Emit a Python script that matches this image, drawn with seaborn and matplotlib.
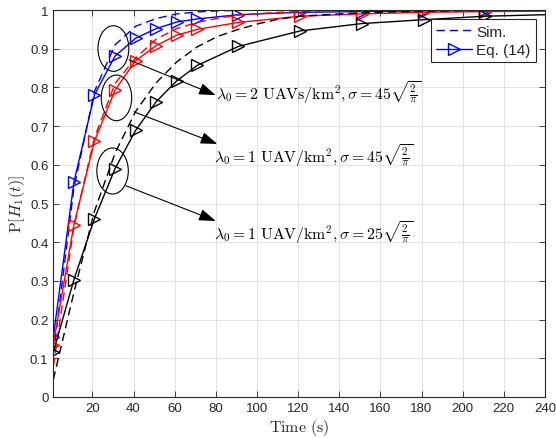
import numpy as np
import pandas as pd
import matplotlib
matplotlib.use("Agg")
import matplotlib.pyplot as plt
from matplotlib.patches import Ellipse
import seaborn as sns

# ---------------- data ----------------
t_eq = [1, 11, 21, 31, 41, 51, 61, 71, 91, 121, 151, 181, 211, 241]
eq_blue = [0.155, 0.555, 0.781, 0.881, 0.927, 0.952, 0.969, 0.977, 0.988, 0.994, 0.996, 0.998, 0.999, 0.999]
eq_red = [0.135, 0.445, 0.661, 0.793, 0.869, 0.908, 0.935, 0.950, 0.968, 0.984, 0.990, 0.994, 0.996, 0.997]
eq_black = [0.116, 0.303, 0.461, 0.590, 0.689, 0.763, 0.817, 0.857, 0.906, 0.946, 0.965, 0.975, 0.984, 0.988]

t_sim = [1, 11, 21, 31, 41, 51, 61, 71, 81, 91, 101, 111, 121, 151, 181, 211, 241]
sim_blue = [0.110, 0.540, 0.790, 0.910, 0.958, 0.978, 0.990, 0.995, 0.998, 0.999, 1.0, 1.0, 1.0, 1.0, 1.0, 1.0, 1.0]
sim_red = [0.080, 0.440, 0.670, 0.810, 0.876, 0.925, 0.952, 0.968, 0.979, 0.987, 0.991, 0.994, 0.996, 0.999, 1.0, 1.0, 1.0]
sim_black = [0.045, 0.270, 0.480, 0.630, 0.738, 0.812, 0.866, 0.905, 0.932, 0.950, 0.965, 0.977, 0.984, 0.993, 0.997, 0.999, 1.0]

labels_txt = [r'$\lambda_0 = 2\ \mathrm{UAVs/km}^2, \sigma = 45\sqrt{\frac{2}{\pi}}$',
              r'$\lambda_0 = 1\ \mathrm{UAV/km}^2, \sigma = 45\sqrt{\frac{2}{\pi}}$',
              r'$\lambda_0 = 1\ \mathrm{UAV/km}^2, \sigma = 25\sqrt{\frac{2}{\pi}}$']
legend_labels = ['Sim.', 'Eq. (14)']
x_ticks = list(range(20, 241, 20))
y_ticks = [0, 0.1, 0.2, 0.3, 0.4, 0.5, 0.6, 0.7, 0.8, 0.9, 1]
y_ticklabels = ['0', '0.1', '0.2', '0.3', '0.4', '0.5', '0.6', '0.7', '0.8', '0.9', '1']

# ---------------- style ----------------
sns.set_theme(style="white")
plt.rcParams['font.family'] = ['Liberation Sans', 'DejaVu Sans']
plt.rcParams['mathtext.fontset'] = 'cm'
plt.rcParams['lines.dashed_pattern'] = [6, 3.5]

fig = plt.figure(figsize=(5.56, 4.39), dpi=100)
ax = fig.add_axes([0.0959, 0.0934, 0.8843, 0.8815])

colors = {'blue': '#0000ff', 'red': '#ff0000', 'black': '#000000'}
series = [('blue', sim_blue, eq_blue), ('red', sim_red, eq_red), ('black', sim_black, eq_black)]

handles = []
for cname, sim, eq in series:
    c = colors[cname]
    sns.lineplot(x=t_sim, y=sim, ax=ax, color=c, linestyle='--', linewidth=1.0, legend=False)
    h_sim = ax.lines[-1]
    sns.lineplot(x=t_eq, y=eq, ax=ax, color=c, linestyle='-', linewidth=1.0,
                 marker='>', markersize=8, markerfacecolor='none', markeredgecolor=c,
                 markeredgewidth=1.0, markevery=list(range(len(t_eq) - 1)), legend=False)
    h_eq = ax.lines[-1]
    if cname == 'blue':
        handles = [h_sim, h_eq]

ax.set_xlim(1, 240)
ax.set_ylim(0, 1)
ax.set_xticks(x_ticks)
ax.set_yticks(y_ticks)
ax.set_yticklabels(y_ticklabels)
ax.grid(True, color='#e3e3e3', linewidth=0.7)
ax.set_axisbelow(True)
for sp in ax.spines.values():
    sp.set_color('#262626')
    sp.set_linewidth(0.8)
ax.tick_params(direction='in', length=4, width=0.6, color='#262626', labelcolor='#262626',
               labelsize=9.5, top=True, right=True, bottom=True, left=True)

ax.set_xlabel(r'$\mathrm{Time\ (s)}$', fontsize=11.5, labelpad=2)
ax.set_ylabel(r'$\mathrm{P}[H_1(t)]$', fontsize=11.5, labelpad=2)

# ellipses
ell = [(30.2, 0.9005, 15.0, 0.118), (31.7, 0.773, 14.8, 0.118), (29.8, 0.584, 15.3, 0.119)]
for cx, cy, w, h in ell:
    ax.add_patch(Ellipse((cx, cy), w, h, fill=False, edgecolor='black', linewidth=0.8, zorder=5))

# arrows and texts
arrows = [((37.9, 0.871), (79.9, 0.780)), ((40.2, 0.737), (80.7, 0.654)), ((36.2, 0.546), (79.9, 0.455))]
for (s, e) in arrows:
    ax.annotate('', xy=e, xytext=s,
                arrowprops=dict(arrowstyle='-|>,head_length=0.85,head_width=0.3', color='black',
                                linewidth=0.8, shrinkA=0, shrinkB=0), zorder=6)
text_pos = [(79.9, 0.770), (79.0, 0.607), (79.0, 0.408)]
for (tx, ty), s in zip(text_pos, labels_txt):
    ax.text(tx, ty, s, fontsize=11.4, ha='left', va='baseline', color='black', zorder=7)

leg = ax.legend(handles=handles, labels=legend_labels, loc='upper right', fontsize=11,
                frameon=True, fancybox=False, framealpha=1, edgecolor='#262626',
                handlelength=2.3, handletextpad=0.3, borderpad=0.35, labelspacing=0.3,
                borderaxespad=0.6)
leg.get_frame().set_linewidth(0.8)

fig.savefig('out.png', dpi=100)
